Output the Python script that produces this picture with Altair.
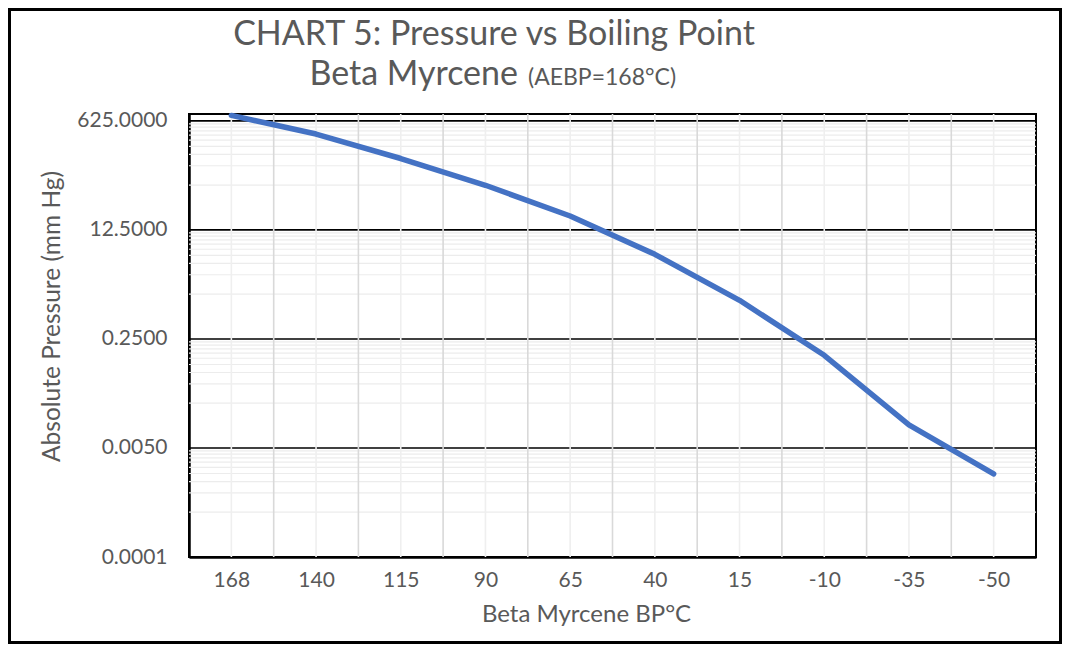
import json
import altair as alt
import pandas as pd

# ---- data ----
bp_labels = ["168", "140", "115", "90", "65", "40", "15", "-10", "-35", "-50"]
pressure = [760, 390, 162, 62, 20.6, 5.2, 1.0, 0.139, 0.0115, 0.00197]
y_ticks = [0.0001, 0.005, 0.25, 12.5, 625]
y_max = 800

title_line1 = "CHART 5: Pressure vs Boiling Point"
title_line2a = "Beta Myrcene"
title_line2b = "(AEBP=168°C)"
x_title = "Beta Myrcene BP°C"
y_title = "Absolute Pressure (mm Hg)"

FONT = "Lato"
GREY = "#595959"

df = pd.DataFrame({"idx": list(range(len(bp_labels))), "bp": bp_labels, "p": pressure})
major_df = pd.DataFrame({"p": y_ticks[1:]})
minor_df = pd.DataFrame({"p": [m * 5 * k for m in y_ticks[:-1] for k in range(1, 10)]})
vmajor_df = pd.DataFrame({"idx": [i + 0.5 for i in range(len(bp_labels) - 1)]})
vminor_df = pd.DataFrame({"idx": list(range(len(bp_labels)))})

xscale = alt.Scale(domain=[-0.5, len(bp_labels) - 0.5], nice=False, zero=False)
yscale = alt.Scale(type="log", base=50, domain=[y_ticks[0], y_max], nice=False)

minor_h = alt.Chart(minor_df).mark_rule(color="#ececec", strokeWidth=1.2).encode(
    y=alt.Y("p:Q", scale=yscale))
major_h = alt.Chart(major_df).mark_rule(color="#000000", strokeWidth=1.6).encode(
    y=alt.Y("p:Q", scale=yscale))
minor_v = alt.Chart(vminor_df).mark_rule(color="#efefef", strokeWidth=1.6).encode(
    x=alt.X("idx:Q", scale=xscale))
major_v = alt.Chart(vmajor_df).mark_rule(color="#d9d9d9", strokeWidth=1.6).encode(
    x=alt.X("idx:Q", scale=xscale))

label_expr = json.dumps(bp_labels) + "[datum.value]"

line = alt.Chart(df).mark_line(color="#4472C4", strokeWidth=5.5, strokeCap="round",
                               strokeJoin="round").encode(
    x=alt.X("idx:Q", scale=xscale,
            axis=alt.Axis(values=list(range(len(bp_labels))), labelExpr=label_expr,
                          title=x_title, grid=False, ticks=False, domain=True,
                          domainColor="#000000", domainWidth=2.5,
                          labelFont=FONT, labelFontSize=21, labelColor=GREY,
                          labelPadding=12, labelFlush=False,
                          titleFont=FONT, titleFontSize=24, titleColor=GREY,
                          titleFontWeight="normal", titleX=397, titleY=64,
                          titleAlign="center", titleBaseline="alphabetic")),
    y=alt.Y("p:Q", scale=yscale,
            axis=alt.Axis(values=y_ticks, format=".4f", title=y_title, grid=False,
                          ticks=False, domain=True, domainColor="#000000",
                          domainWidth=2.5, labelFont=FONT, labelFontSize=21,
                          labelColor=GREY, labelPadding=22, labelFlush=False,
                          titleFont=FONT, titleFontSize=24.5, titleColor=GREY,
                          titleFontWeight="normal", titleAngle=270, titleX=-130,
                          titleY=202, titleAlign="center",
                          titleBaseline="alphabetic")),
)

one = alt.Data(values=[{"a": 1}])
t1 = alt.Chart(one).mark_text(font=FONT, fontSize=34, color=GREY, align="center",
                              baseline="alphabetic").encode(
    x=alt.value(305), y=alt.value(-69), text=alt.value(title_line1))
t2a = alt.Chart(one).mark_text(font=FONT, fontSize=34, color=GREY, align="right",
                               baseline="alphabetic").encode(
    x=alt.value(329), y=alt.value(-29), text=alt.value(title_line2a))
t2b = alt.Chart(one).mark_text(font=FONT, fontSize=23, color=GREY, align="left",
                               baseline="alphabetic").encode(
    x=alt.value(339), y=alt.value(-29), text=alt.value(title_line2b))
border = alt.Chart(one).mark_rect(filled=False, stroke="#000000", strokeWidth=3).encode(
    x=alt.value(-179.5), x2=alt.value(871.5), y=alt.value(-104.5), y2=alt.value(528.5))

chart = alt.layer(minor_h, major_h, minor_v, major_v, line, t1, t2a, t2b, border).properties(
    width=847, height=443,
    autosize=alt.AutoSizeParams(type="none"),
    padding={"left": 181, "top": 106, "right": 26, "bottom": 87},
    background="#ffffff",
).configure_view(stroke="#000000", strokeWidth=2)

chart.save("out.html", embed_options={"renderer": "svg", "actions": False})
